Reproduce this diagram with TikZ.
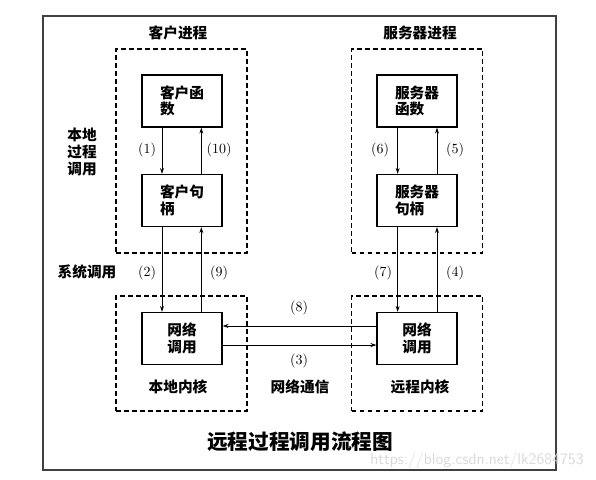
\documentclass[tikz,border=0pt]{standalone}
\usepackage{fontspec}
\newfontfamily\cjk{Noto Sans CJK SC}
\usetikzlibrary{arrows.meta}
\begin{document}
\begin{tikzpicture}[x=0.75pt,y=-0.75pt,
  box/.style={draw,line width=0.9pt,minimum width=60pt,minimum height=39pt,inner sep=0pt,align=left,
    font=\cjk\bfseries\fontsize{11}{12.5}\selectfont},
  grp/.style={draw,dashed,dash pattern=on 3.5pt off 2.5pt,line width=0.9pt,minimum width=98.25pt,inner sep=0pt},
  arr/.style={line width=0.7pt,-{Stealth[length=4.5pt,width=3pt]}},
  num/.style={font=\fontsize{10.5}{12}\selectfont,inner sep=1pt},
  lbl/.style={font=\cjk\bfseries\fontsize{11}{12.5}\selectfont,inner sep=1pt,align=center}]
\useasboundingbox (0,0) rectangle (596,479);
\draw[line width=1.1pt,black!75] (43,16) rectangle (556,470);
% groups
\node[grp,minimum height=153pt] (cp) at (181.5,151) {};
\node[grp,minimum height=86.25pt] (lk) at (181.5,353.5) {};
\node[grp,minimum height=153pt] (sp) at (417,151) {};
\node[grp,minimum height=86.25pt] (rk) at (417,353.5) {};
% boxes
\node[box] (cf) at (182,101) {客户函\\数};
\node[box] (cs) at (182,200.5) {客户句\\柄};
\node[box,align=center] (ln) at (182,338.5) {网络\\调用};
\node[box] (sf) at (417,101) {服务器\\函数};
\node[box] (ss) at (417,200.5) {服务器\\句柄};
\node[box,align=center] (rn) at (417,338.5) {网络\\调用};
% arrows
\draw[arr] ([xshift=-15pt]cf.south) -- ([xshift=-15pt]cs.north);
\draw[arr] ([xshift=14.5pt]cs.north) -- ([xshift=14.5pt]cf.south);
\draw[arr] ([xshift=-15pt]cs.south) -- ([xshift=-15pt]ln.north);
\draw[arr] ([xshift=14.5pt]ln.north) -- ([xshift=14.5pt]cs.south);
\draw[arr] ([xshift=-14.5pt]sf.south) -- ([xshift=-14.5pt]ss.north);
\draw[arr] ([xshift=15pt]ss.north) -- ([xshift=15pt]sf.south);
\draw[arr] ([xshift=-14.5pt]ss.south) -- ([xshift=-14.5pt]rn.north);
\draw[arr] ([xshift=15pt]rn.north) -- ([xshift=15pt]ss.south);
\draw[arr] ([yshift=9.4pt]rn.west) -- ([yshift=9.4pt]ln.east);
\draw[arr] ([yshift=-4.9pt]ln.east) -- ([yshift=-4.9pt]rn.west);
% numbers
\node[num] (n1) at (147,150) {(1)};
\node[num] (n10) at (219,150) {(10)};
\node[num] (n6) at (380,150) {(6)};
\node[num] (n5) at (455,150) {(5)};
\node[num] (n2) at (147,273) {(2)};
\node[num] (n9) at (219,273) {(9)};
\node[num] (n7) at (383,273) {(7)};
\node[num] (n4) at (455,273) {(4)};
\node[num] (n8) at (299,308) {(8)};
\node[num] (n3) at (299,361) {(3)};
% labels
\node[lbl] (t1) at (178,33) {客户进程};
\node[lbl] (t2) at (420,33) {服务器进程};
\node[lbl] (t3) at (82,152) {本地\\过程\\调用};
\node[lbl] (t4) at (87,272) {系统调用};
\node[lbl] (t5) at (178,387) {本地内核};
\node[lbl] (t6) at (300,387) {网络通信};
\node[lbl] (t7) at (420,387) {远程内核};
\node[font=\cjk\bfseries\fontsize{15.5}{18}\selectfont,inner sep=0pt] (title) at (300,442) {远程过程调用流程图};
\node[font=\sffamily\fontsize{12}{14}\selectfont,text=black!15,inner sep=0pt] (wm) at (477,460) {https://blog.csdn.net/lk2684753};
\end{tikzpicture}
\end{document}
